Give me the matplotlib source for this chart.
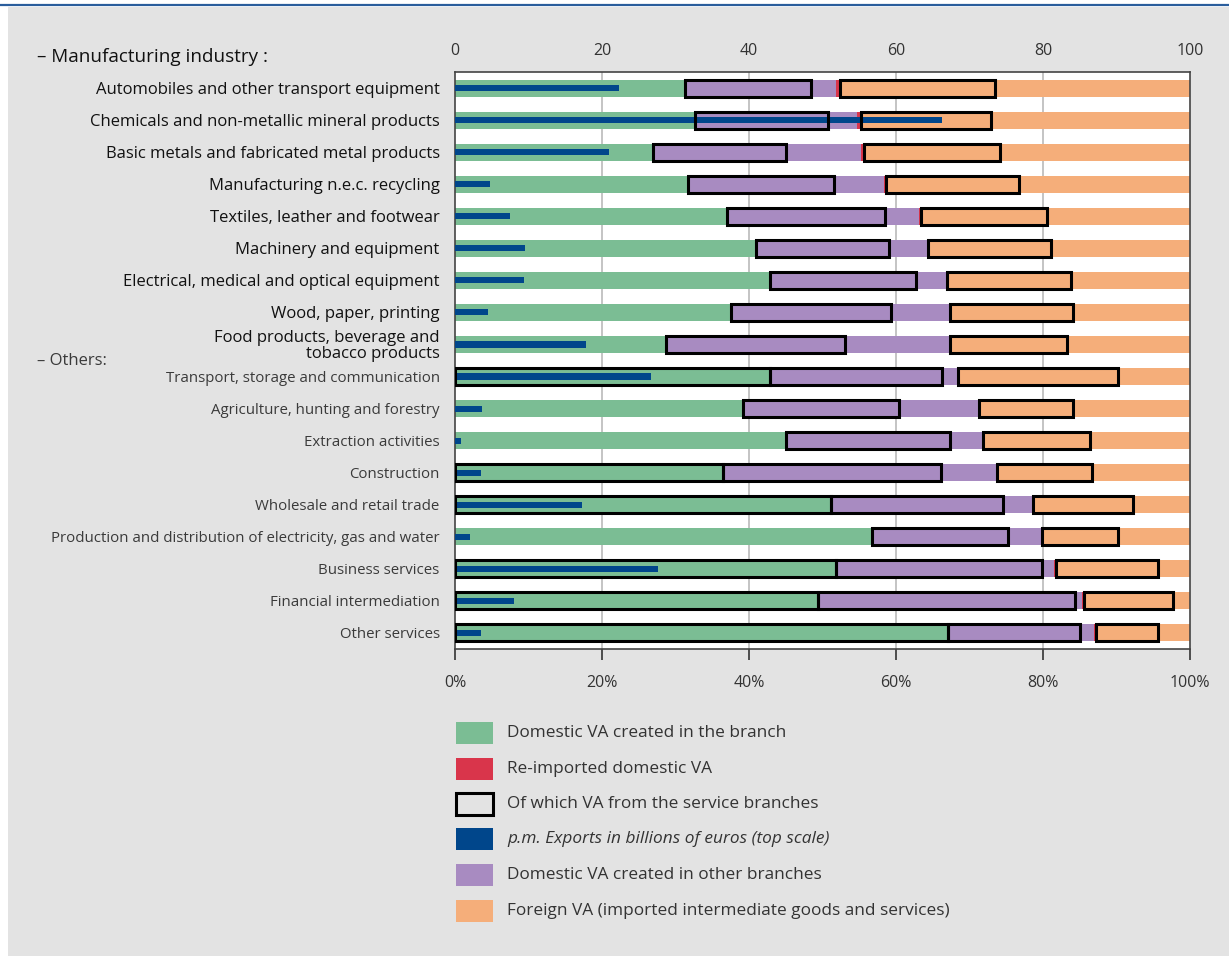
import matplotlib
matplotlib.use("Agg")
import matplotlib.pyplot as plt
from matplotlib.patches import Rectangle
import numpy as np

plt.rcParams['font.family'] = ['Open Sans', 'DejaVu Sans']

categories = [
    "Automobiles and other transport equipment",
    "Chemicals and non-metallic mineral products",
    "Basic metals and fabricated metal products",
    "Manufacturing n.e.c. recycling",
    "Textiles, leather and footwear",
    "Machinery and equipment",
    "Electrical, medical and optical equipment",
    "Wood, paper, printing",
    "Food products, beverage and\ntobacco products",
    "Transport, storage and communication",
    "Agriculture, hunting and forestry",
    "Extraction activities",
    "Construction",
    "Wholesale and retail trade",
    "Production and distribution of electricity, gas and water",
    "Business services",
    "Financial intermediation",
    "Other services",
]
is_manufacturing = [True] * 9 + [False] * 9

# cumulative boundaries (% of exported value added)
green_end = [31.3, 32.7, 27.0, 31.7, 37.0, 41.0, 42.9, 37.6, 28.7,
             42.9, 39.2, 45.0, 36.5, 51.1, 56.7, 51.8, 49.4, 67.1]
purple_end = [51.8, 54.7, 55.3, 58.3, 63.1, 64.2, 66.8, 67.2, 67.3,
              68.3, 71.2, 71.7, 73.6, 78.5, 79.7, 81.5, 85.3, 86.9]
red_end = [52.4, 55.2, 55.7, 58.6, 63.4, 64.4, 67.0, 67.4, 67.4,
           68.5, 71.3, 71.9, 73.7, 78.6, 79.8, 81.8, 85.6, 87.2]
# service-branch portions (box ends)
purple_box_end = [48.4, 50.7, 45.1, 51.5, 58.5, 59.0, 62.7, 59.3, 53.1,
                  66.2, 60.4, 67.3, 66.1, 74.6, 75.2, 79.8, 84.4, 85.0]
orange_box_end = [73.5, 72.9, 74.2, 76.7, 80.6, 81.1, 83.8, 84.1, 83.3,
                  90.2, 84.1, 86.4, 86.6, 92.3, 90.2, 95.7, 97.7, 95.7]
own_branch_box = [False] * 9 + [True, False, False, True, True, False, True, True, True]
# exports, billions of euros (top scale)
exports = [22.3, 66.3, 21.0, 4.8, 7.5, 9.5, 9.4, 4.5, 17.8,
           26.7, 3.7, 0.8, 3.5, 17.3, 2.0, 27.6, 8.0, 3.5]

top_ticks = [0, 20, 40, 60, 80, 100]
bottom_labels = ["0%", "20%", "40%", "60%", "80%", "100%"]

C_GREEN = "#7bbd94"
C_PURPLE = "#a88bc1"
C_RED = "#d9354b"
C_BLUE = "#00468b"
C_ORANGE = "#f5ae7a"
C_BG = "#e3e3e3"
C_TEXT = "#333333"

W, H = 1229, 956
fig = plt.figure(figsize=(W / 100, H / 100), dpi=100, facecolor="white")

# background panel and top rule
fig.add_artist(Rectangle((8 / W, 0), 1 - 8 / W, (H - 7) / H, transform=fig.transFigure,
                         facecolor=C_BG, edgecolor="none", zorder=-10))
fig.add_artist(plt.Line2D([0, 1], [(H - 5) / H] * 2, transform=fig.transFigure,
                          color="#2a5d9c", lw=1.6, zorder=-5))

ax = fig.add_axes([455 / W, (H - 649) / H, (1190 - 455) / W, (649 - 72) / H])
ax.set_facecolor("white")

n = len(categories)
y = np.arange(n)
g = np.array(green_end)
p = np.array(purple_end)
r = np.array(red_end)
pb = np.array(purple_box_end)
ob = np.array(orange_box_end)

bh = 0.53
ax.barh(y, g, height=bh, color=C_GREEN, zorder=2)
ax.barh(y, p - g, left=g, height=bh, color=C_PURPLE, zorder=2)
ax.barh(y, r - p, left=p, height=bh, color=C_RED, zorder=2)
ax.barh(y, 100 - r, left=r, height=bh, color=C_ORANGE, zorder=2)

ax.barh(y, exports, height=0.19, color=C_BLUE, zorder=3)

box_kw = dict(height=bh, facecolor="none", edgecolor="black", linewidth=2.2, zorder=4)
ax.barh(y, pb - g, left=g, **box_kw)
ax.barh(y, ob - r, left=r, **box_kw)
own = np.array(own_branch_box)
ax.barh(y[own], g[own], left=0, **box_kw)

ax.set_xlim(0, 100)
ax.set_ylim(n - 0.5, -0.5)

for xv in [20, 40, 60, 80]:
    ax.axvline(xv, color="#c4c4c4", lw=1.4, zorder=1)

for s in ax.spines.values():
    s.set_color("#444444")
    s.set_linewidth(1.2)

ax.set_xticks(top_ticks)
ax.set_xticklabels(bottom_labels, fontsize=11.5, color=C_TEXT)
ax.tick_params(axis="x", direction="out", length=8, width=1.2, color="#333333", pad=11)

ax.set_yticks(y)
ax.set_yticklabels(categories)
ax.tick_params(axis="y", length=0, pad=11)
for lab, manu in zip(ax.get_yticklabels(), is_manufacturing):
    lab.set_ha("right")
    if manu:
        lab.set_fontsize(12)
        lab.set_color("#111111")
    else:
        lab.set_fontsize(10.8)
        lab.set_color("#3a3a3a")
ax.get_yticklabels()[8].set_linespacing(0.95)

sec = ax.secondary_xaxis("top")
sec.set_xticks(top_ticks)
sec.set_xticklabels([str(t) for t in top_ticks], fontsize=11.5, color=C_TEXT)
sec.tick_params(length=0, pad=9)
sec.spines["top"].set_visible(False)

fig.text(37 / W, 1 - 57 / H, "– Manufacturing industry :", fontsize=13.6, color="#111111",
         ha="left", va="center")
fig.text(37 / W, 1 - 361 / H, "– Others:", fontsize=12, color="#3a3a3a",
         ha="left", va="center")

# legend
legend_items = [
    ("Domestic VA created in the branch", C_GREEN, "none", False),
    ("Re-imported domestic VA", C_RED, "none", False),
    ("Of which VA from the service branches", C_BG, "black", False),
    ("p.m. Exports in billions of euros (top scale)", C_BLUE, "none", True),
    ("Domestic VA created in other branches", C_PURPLE, "none", False),
    ("Foreign VA (imported intermediate goods and services)", C_ORANGE, "none", False),
]
leg_y = [733, 769, 804, 839, 875, 911]
for (label, fc, ec, ital), yy in zip(legend_items, leg_y):
    fig.add_artist(Rectangle((456 / W, 1 - (yy + 11) / H), 37 / W, 22 / H,
                             transform=fig.transFigure, facecolor=fc, edgecolor=ec,
                             linewidth=2.2 if ec != "none" else 0))
    fig.text(507 / W, 1 - yy / H, label, fontsize=12.4, color=C_TEXT, ha="left",
             va="center", style="italic" if ital else "normal")

fig.savefig("out.png", dpi=100, facecolor=fig.get_facecolor())
